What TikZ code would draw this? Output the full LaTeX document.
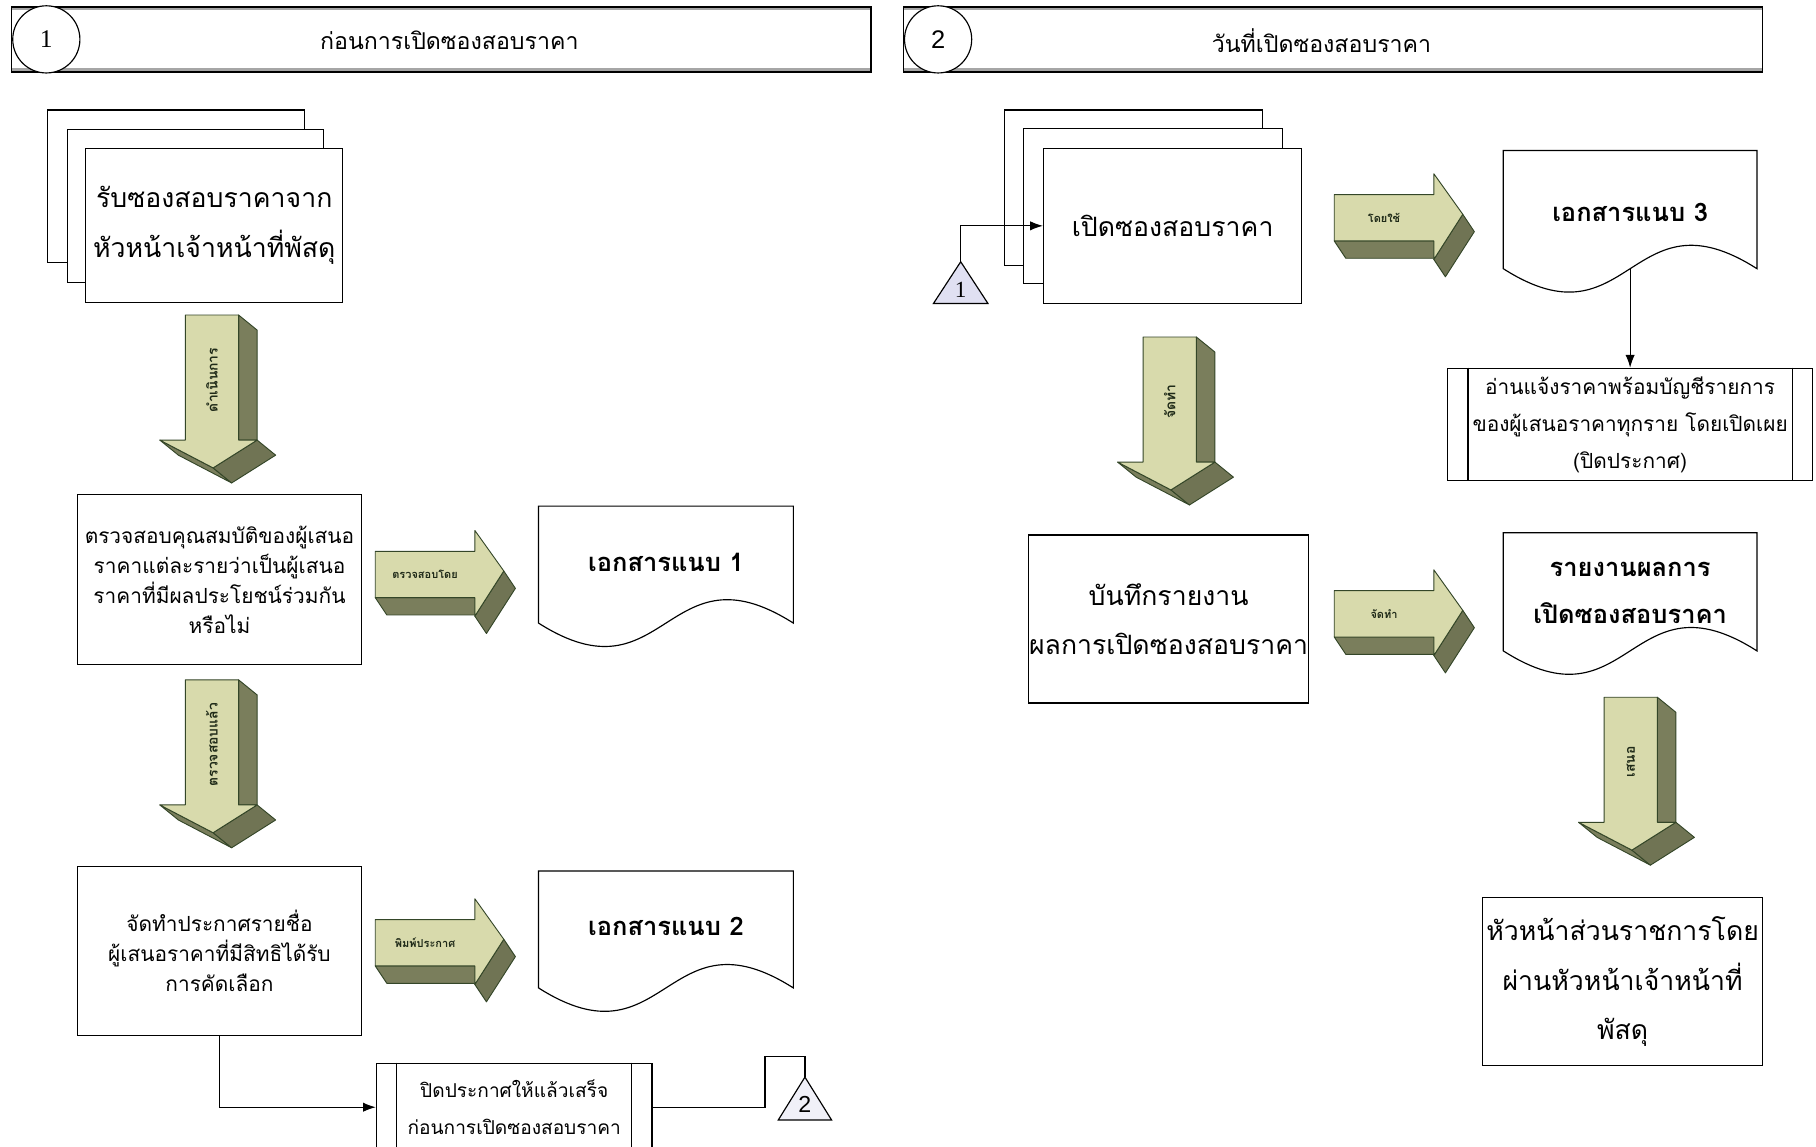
\documentclass[tikz,border=0pt]{standalone}
\usepackage{fontspec}
\setmainfont{Liberation Sans}
\newfontfamily\thai[Script=Thai]{Loma}
\newfontfamily\serifnum{Liberation Serif}
\usetikzlibrary{arrows.meta,calc}
\definecolor{arfront}{RGB}{216,218,172}
\definecolor{arside}{RGB}{122,126,92}
\definecolor{arbot}{RGB}{112,116,84}
\definecolor{arline}{RGB}{52,70,40}
\definecolor{lav}{RGB}{224,224,242}
\definecolor{lav2}{RGB}{240,240,248}
\newcommand{\fbig}{\thai\fontsize{23}{43}\selectfont}
\newcommand{\fmed}{\thai\fontsize{18}{26}\selectfont}
\newcommand{\fpp}{\thai\fontsize{18}{32}\selectfont}
\newcommand{\fppsmall}{\thai\fontsize{16.5}{32}\selectfont}
\newcommand{\fdoc}{\thai\bfseries\fontsize{22}{41}\selectfont}
\newcommand{\fhead}{\thai\fontsize{20}{24}\selectfont}
\newcommand{\fdl}{\thai\bfseries\fontsize{12}{14}\selectfont}
\newcommand{\frl}{\thai\bfseries\fontsize{9.5}{11}\selectfont}
\tikzset{
  boxn/.style={draw, line width=1pt, fill=white, align=center, inner sep=0pt},
  plain/.style={draw, line width=1pt, fill=white},
  conn/.style={draw, line width=1pt},
  tip/.style={-{Latex[length=11pt,width=8pt]}},
  sidef/.style={fill=arside, draw=arline, line width=0.8pt, line join=round},
  botf/.style={fill=arbot, draw=arline, line width=0.8pt, line join=round},
  frontf/.style={fill=arfront, draw=arline, line width=0.8pt, line join=round},
  dlabel/.style={font=\fdl, text=arline!60!black, rotate=90, inner sep=0pt},
  rlabel/.style={font=\frl, text=arline!60!black, inner sep=0pt},
  doctext/.style={font=\fdoc, align=center, inner sep=0pt},
}
\newcommand{\downarr}[4]{%
  \begin{scope}[shift={(#1,#2)}]
    \filldraw[sidef] (46,0) -- (62,13) -- (62,108) -- (46,108) -- cycle;
    \filldraw[sidef] (-22,108) -- (-6,121) -- (40,145) -- (24,132) -- cycle;
    \filldraw[botf] (62,108) -- (78,121) -- (40,145) -- (24,132) -- cycle;
    \filldraw[frontf] (0,0) -- (46,0) -- (46,108) -- (62,108) -- (24,132) -- (-22,108) -- (0,108) -- cycle;
    \node[dlabel] (#3) at (23,56) {#4};
  \end{scope}}
\newcommand{\rightarr}[4]{%
  \begin{scope}[shift={(#1,#2)}]
    \filldraw[sidef] (0,40) -- (86,40) -- (96,55) -- (10,55) -- cycle;
    \filldraw[botf] (111,17) -- (86,56) -- (96,71) -- (121,32) -- cycle;
    \filldraw[frontf] (0,0) -- (86,0) -- (86,-18) -- (111,17) -- (86,56) -- (86,40) -- (0,40) -- cycle;
    \node[rlabel] (#3) at (43,20) {#4};
  \end{scope}}
% name, x0, top, x1, m
\newcommand{\docshape}[5]{%
  \draw[line width=1pt, fill=white] (#2,#3) -- (#4,#3) -- (#4,#5)
    .. controls ({(#2+#4)/2},{#5-70}) and ({(#2+#4)/2},{#5+70}) .. (#2,#5) -- cycle;
  \coordinate (#1b) at ({(#2+#4)/2},#5);}
\begin{document}
\begin{tikzpicture}[x=1pt,y=-1pt]
\useasboundingbox (0,0) rectangle (1568,990);
\fill[white] (0,0) rectangle (1568,990);

% ---------- headers ----------
\node[draw, line width=1.2pt, minimum width=742pt, minimum height=56pt, inner sep=0pt] (h1) at (381,34) {};
\draw[gray!70, line width=2pt] ([shift={(1,2.5)}]h1.north west) -- ([shift={(-1,2.5)}]h1.north east);
\draw[gray!70, line width=2pt] ([shift={(1,-2.5)}]h1.south west) -- ([shift={(-1,-2.5)}]h1.south east);
\node[draw, circle, line width=1pt, fill=white, minimum size=58pt, inner sep=0pt, font=\serifnum\fontsize{22}{24}\selectfont] (c1) at (40,34) {1};
\node[font=\fhead] (h1t) at (388,35) {ก่อนการเปิดซองสอบราคา};

\node[draw, line width=1.2pt, minimum width=742pt, minimum height=56pt, inner sep=0pt] (h2) at (1151,34) {};
\draw[gray!70, line width=2pt] ([shift={(1,2.5)}]h2.north west) -- ([shift={(-1,2.5)}]h2.north east);
\draw[gray!70, line width=2pt] ([shift={(1,-2.5)}]h2.south west) -- ([shift={(-1,-2.5)}]h2.south east);
\node[draw, circle, line width=1pt, fill=white, minimum size=58pt, inner sep=0pt, font=\fontsize{22}{24}\selectfont] (c2) at (810,34) {2};
\node[font=\fhead] (h2t) at (1141,35) {วันที่เปิดซองสอบราคา};

% ---------- left column ----------
\draw[plain] (41,95) rectangle (263,227);
\draw[plain] (58,112) rectangle (279,244);
\node[boxn, minimum width=222pt, minimum height=133pt, font=\fbig] (stack1) at (185,194.5) {รับซองสอบราคาจาก\\หัวหน้าเจ้าหน้าที่พัสดุ};

\downarr{160}{272}{a1}{ดำเนินการ}

\node[boxn, minimum width=245pt, minimum height=147pt, font=\fmed] (chk) at (189.5,500.5)
  {ตรวจสอบคุณสมบัติของผู้เสนอ\\ราคาแต่ละรายว่าเป็นผู้เสนอ\\ราคาที่มีผลประโยชน์ร่วมกัน\\หรือไม่};

\rightarr{324}{476}{r1}{ตรวจสอบโดย}
\docshape{d1}{465}{437}{685}{538}
\node[doctext] (doc1) at (575,486) {เอกสารแนบ 1};

\downarr{160}{587}{a2}{ตรวจสอบแล้ว}

\node[boxn, minimum width=245pt, minimum height=146pt, font=\fmed] (prep) at (189.5,821)
  {จัดทำประกาศรายชื่อ\\ผู้เสนอราคาที่มีสิทธิได้รับ\\การคัดเลือก};

\rightarr{324}{794}{r2}{พิมพ์ประกาศ}
\docshape{d2}{465}{752}{685}{853}
\node[doctext] (doc2) at (575,800) {เอกสารแนบ 2};

\node[boxn, minimum width=238pt, minimum height=76pt, font=\fppsmall] (post) at (444,956)
  {ปิดประกาศให้แล้วเสร็จ\\ก่อนการเปิดซองสอบราคา};
\draw[line width=1pt] ($(post.north west)+(18,0)$) -- ($(post.south west)+(18,0)$);
\draw[line width=1pt] ($(post.north east)+(-18,0)$) -- ($(post.south east)+(-18,0)$);
\draw[conn, tip] (prep.south) |- (post.west);

\draw[line width=1pt, fill=lav2] (672,967) -- (718,967) -- (695,930) -- cycle;
\coordinate (t2a) at (695,930);
\node[font=\fontsize{20}{20}\selectfont, inner sep=0pt] (t2) at (695,954) {2};
\draw[conn] (post.east) -- ++(97,0) |- ($(t2a)+(0,-18)$) -- (t2a);

% ---------- right column ----------
\draw[plain] (867,95) rectangle (1090,229);
\draw[plain] (884,111) rectangle (1107,245);
\node[boxn, minimum width=223pt, minimum height=134pt, font=\fbig] (stack2) at (1012.5,195) {เปิดซองสอบราคา};

\draw[line width=1pt, fill=lav] (806,262) -- (853,262) -- (829.5,226) -- cycle;
\coordinate (t1a) at (829.5,226);
\node[font=\serifnum\fontsize{20}{20}\selectfont, inner sep=0pt] (t1) at (829.5,250) {1};
\draw[conn, tip] (t1a) |- (stack2.west);

\rightarr{1152}{168}{r3}{โดยใช้}
\docshape{d3}{1298}{130}{1517}{232}
\node[doctext] (doc3) at (1407.5,183) {เอกสารแนบ 3};

\node[boxn, minimum width=315pt, minimum height=97pt, font=\fpp] (readp) at (1407.5,366.5)
  {อ่านแจ้งราคาพร้อมบัญชีรายการ\\ของผู้เสนอราคาทุกราย โดยเปิดเผย\\(ปิดประกาศ)};
\draw[line width=1pt] ($(readp.north west)+(18,0)$) -- ($(readp.south west)+(18,0)$);
\draw[line width=1pt] ($(readp.north east)+(-18,0)$) -- ($(readp.south east)+(-18,0)$);
\draw[conn, tip] (d3b) -- (readp.north);

\downarr{987}{291}{a3}{จัดทำ}

\node[boxn, minimum width=242pt, minimum height=145pt, font=\fbig] (rec) at (1009,534.5)
  {บันทึกรายงาน\\ผลการเปิดซองสอบราคา};

\rightarr{1152}{510}{r4}{จัดทำ}
\docshape{d4}{1298}{460}{1517}{562}
\node[doctext] (doc4) at (1407.5,512) {รายงานผลการ\\เปิดซองสอบราคา};

\downarr{1385}{602}{a4}{เสนอ}

\node[boxn, minimum width=242pt, minimum height=145pt, font=\fbig] (head) at (1401,847.5)
  {หัวหน้าส่วนราชการโดย\\ผ่านหัวหน้าเจ้าหน้าที่\\พัสดุ};
\end{tikzpicture}
\end{document}
